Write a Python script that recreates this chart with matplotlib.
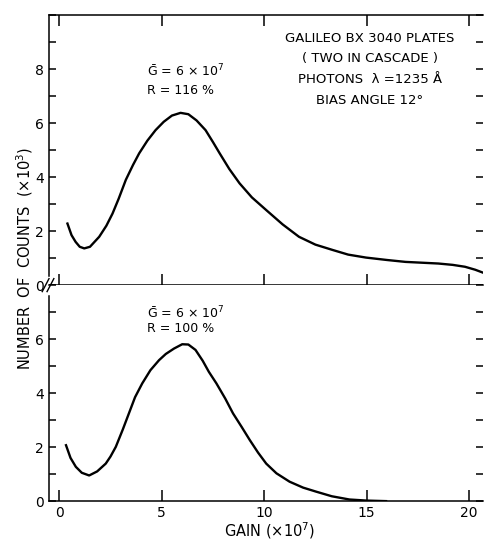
import matplotlib
matplotlib.use("Agg")
import matplotlib.pyplot as plt
from matplotlib.lines import Line2D

# top panel: R = 116 %
gain_top = [0.40, 0.6, 0.8, 1.0, 1.22, 1.5, 1.95, 2.3, 2.6, 2.9, 3.25, 3.6, 3.9, 4.3,
            4.7, 5.1, 5.5, 5.92, 6.3, 6.7, 7.14, 7.5, 7.83, 8.3, 8.8, 9.4, 10.1, 10.9,
            11.7, 12.5, 13.35, 14.1, 14.97, 16.0, 16.9, 17.7, 18.5, 19.2, 19.8, 20.3, 20.65]
counts_top = [2.28, 1.85, 1.6, 1.42, 1.36, 1.42, 1.79, 2.2, 2.65, 3.2, 3.9, 4.45, 4.88, 5.35,
              5.74, 6.05, 6.28, 6.38, 6.33, 6.1, 5.74, 5.3, 4.88, 4.3, 3.77, 3.25, 2.78, 2.25,
              1.79, 1.5, 1.30, 1.13, 1.02, 0.93, 0.86, 0.83, 0.8, 0.75, 0.68, 0.57, 0.47]

# bottom panel: R = 100 %
gain_bot = [0.33, 0.55, 0.81, 1.1, 1.46, 1.85, 2.27, 2.5, 2.76, 3.1, 3.4, 3.7, 4.05, 4.45,
            4.87, 5.2, 5.6, 6.0, 6.3, 6.65, 7.0, 7.3, 7.67, 8.1, 8.48, 8.9, 9.3, 9.7, 10.1,
            10.6, 11.24, 11.9, 12.54, 13.3, 14.16, 15.0, 15.95]
counts_bot = [2.07, 1.6, 1.27, 1.05, 0.95, 1.1, 1.39, 1.65, 2.01, 2.65, 3.25, 3.85, 4.36, 4.85,
              5.22, 5.45, 5.65, 5.81, 5.8, 5.6, 5.2, 4.79, 4.36, 3.8, 3.25, 2.75, 2.26, 1.8, 1.39,
              1.03, 0.72, 0.5, 0.35, 0.18, 0.06, 0.02, 0.0]

x_major = [0, 5, 10, 15, 20]
info_lines = ["GALILEO BX 3040 PLATES", "( TWO IN CASCADE )",
              "PHOTONS  \u03bb =1235 \u00c5", "BIAS ANGLE 12\u00b0"]

fig = plt.figure(figsize=(4.84, 5.4), dpi=100)
left, right = 49 / 484, 483 / 484
y_bot, y_mid, y_top = 0.072, 0.472, 0.972
ax1 = fig.add_axes([left, y_mid, right - left, y_top - y_mid])
ax2 = fig.add_axes([left, y_bot, right - left, y_mid - y_bot])

for ax, ymax in ((ax1, 10), (ax2, 8)):
    ax.set_xlim(-0.5, 20.68)
    ax.set_ylim(0, ymax)
    ax.set_xticks(x_major)
    ax.set_yticks(range(0, ymax + 1), minor=True)
    ax.spines['right'].set_visible(False)
    for s in ('left', 'top', 'bottom'):
        ax.spines[s].set_linewidth(1.1)
    ax.tick_params(axis='x', direction='in', length=8, width=1.1, top=True,
                   labelsize=10)
    ax.tick_params(axis='y', which='both', direction='in', length=5, width=1.1,
                   right=True, labelsize=10)

ax1.set_yticks([0, 2, 4, 6, 8])
ax2.set_yticks([0, 2, 4, 6])
ax1.tick_params(axis='x', labelbottom=False)
ax2.tick_params(axis='x', top=False)
ax2.spines['top'].set_visible(False)

ax1.plot(gain_top, counts_top, color='black', lw=1.7)
ax2.plot(gain_bot, counts_bot, color='black', lw=1.7)

ax1.text(4.3, 7.9, r"$\bar{\rm G}$ = 6 $\times$ 10$^{7}$", fontsize=9, va='center')
ax1.text(4.3, 7.2, "R = 116 %", fontsize=9, va='center')
ax2.text(4.3, 6.96, r"$\bar{\rm G}$ = 6 $\times$ 10$^{7}$", fontsize=9, va='center')
ax2.text(4.3, 6.4, "R = 100 %", fontsize=9, va='center')

for i, line in enumerate(info_lines):
    ax1.text(15.15, 9.15 - 0.77 * i, line, fontsize=9.5, ha='center', va='center')

fig.text((270 / 484), 1 - 531 / 540, "GAIN (\u00d710$^{7}$)", fontsize=10.5,
         ha='center', va='center')
fig.text(0.05, 0.522, "NUMBER  OF  COUNTS  (\u00d710$^{3}$)", rotation=90,
         fontsize=10.5, ha='center', va='center')

# break marks on the left axis
ax1.spines['left'].set_bounds(0.35, 10)
ax2.spines['left'].set_bounds(0, 7.6)
for dx in (-0.004, 0.006):
    fig.add_artist(Line2D([left - 0.010 + dx, left + 0.004 + dx],
                          [y_mid - 0.012, y_mid + 0.012],
                          color='black', lw=1.0))

fig.savefig("out.png", dpi=100)
